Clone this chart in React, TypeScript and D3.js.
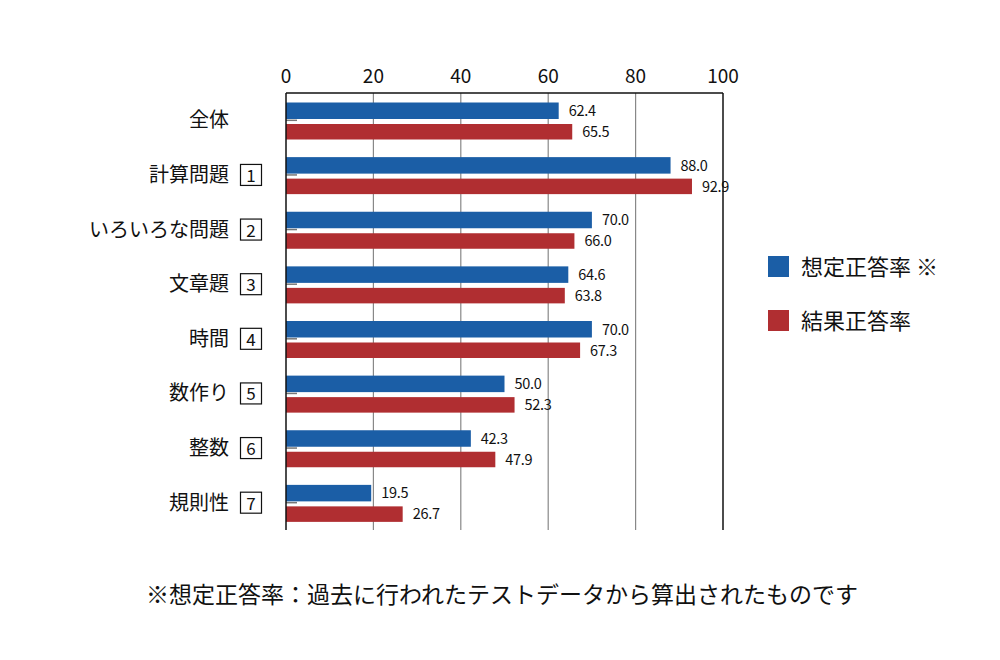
import React from "react";
import * as d3 from "d3";

const categories = ["全体", "計算問題", "いろいろな問題", "文章題", "時間", "数作り", "整数", "規則性"];
const boxNumbers = ["", "1", "2", "3", "4", "5", "6", "7"];
const assumed = [62.4, 88.0, 70.0, 64.6, 70.0, 50.0, 42.3, 19.5];
const actual = [65.5, 92.9, 66.0, 63.8, 67.3, 52.3, 47.9, 26.7];
const xTicks = [0, 20, 40, 60, 80, 100];
const legendLabels = ["想定正答率 ※", "結果正答率"];
const footnote = "※想定正答率：過去に行われたテストデータから算出されたものです";

const BLUE = "#1b5ea6";
const RED = "#b02e31";
const FONT = "'Noto Sans CJK JP', 'Noto Sans', sans-serif";

export default function App() {
  const left = 286, right = 723, top = 93, bottom = 530;
  const x = d3.scaleLinear().domain([0, 100]).range([left, right]);
  const y = d3.scaleBand().domain(categories).range([top, bottom]);
  const bw = y.bandwidth();
  return (
    <svg width={1000} height={660} style={{ position: "absolute", left: 0, top: 0, background: "#fff" }} fontFamily={FONT}>
      {xTicks.slice(1, -1).map((t) => (
        <line key={t} x1={x(t)} x2={x(t)} y1={top} y2={bottom} stroke="#888" strokeWidth={1.2} />
      ))}
      {xTicks.map((t) => (
        <text key={"t" + t} x={x(t)} y={83} textAnchor="middle" fontSize={19} fill="#111">{t}</text>
      ))}
      {categories.map((c, i) => {
        const y0 = y(c)!;
        const yc = y0 + bw / 2;
        return (
          <g key={c}>
            <rect x={x(0)} y={y0 + 9.5} width={x(assumed[i]) - x(0)} height={16.5} fill={BLUE} />
            <rect x={x(0)} y={y0 + 31} width={x(actual[i]) - x(0)} height={15.5} fill={RED} />
            <line x1={x(0)} x2={x(0) + 11} y1={yc} y2={yc} stroke="#777" strokeWidth={1.5} />
            <text x={x(assumed[i]) + 10} y={y0 + 23} fontSize={14.5} fill="#111" letterSpacing={-0.3}>{assumed[i].toFixed(1)}</text>
            <text x={x(actual[i]) + 10} y={y0 + 44} fontSize={14.5} fill="#111" letterSpacing={-0.3}>{actual[i].toFixed(1)}</text>
            <text x={229} y={yc + 7} textAnchor="end" fontSize={20} fill="#111">{c}</text>
            {boxNumbers[i] ? (
              <>
                <rect x={240.5} y={yc - 10.5} width={21} height={21} fill="none" stroke="#111" strokeWidth={1.2} />
                <text x={251} y={yc + 7} textAnchor="middle" fontSize={17} fill="#111">{boxNumbers[i]}</text>
              </>
            ) : null}
          </g>
        );
      })}
      <line x1={left} x2={right} y1={top} y2={top} stroke="#111" strokeWidth={1.5} />
      <line x1={left} x2={left} y1={top} y2={bottom} stroke="#111" strokeWidth={1.5} />
      <line x1={right} x2={right} y1={top} y2={bottom} stroke="#111" strokeWidth={1.5} />
      {legendLabels.map((l, i) => (
        <g key={l}>
          <rect x={768} y={256 + i * 54} width={21} height={21} fill={i === 0 ? BLUE : RED} />
          <text x={801} y={275 + i * 54} fontSize={22} fill="#111">{l}</text>
        </g>
      ))}
      <text x={502} y={603} textAnchor="middle" fontSize={23} fill="#111">{footnote}</text>
    </svg>
  );
}
